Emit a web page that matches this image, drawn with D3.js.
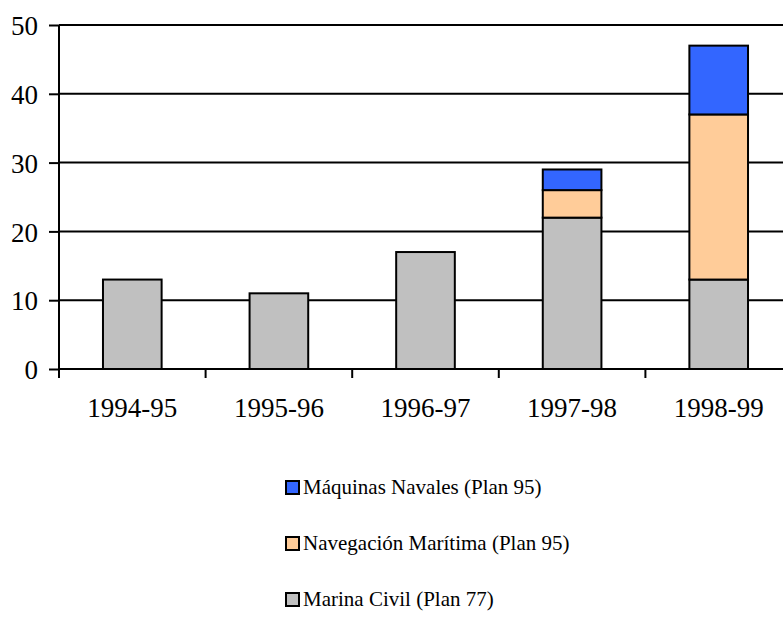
<!doctype html>
<html>
<head>
<meta charset="utf-8">
<style>
  body { margin: 0; background: #fff; }
</style>
</head>
<body>
<svg id="chart" width="783" height="623" font-family="Liberation Serif"></svg>
<script src="https://cdn.jsdelivr.net/npm/d3@7"></script>
<script>
// data
var years = ["1994-95", "1995-96", "1996-97", "1997-98", "1998-99"];
var marinaCivil = [13, 11, 17, 22, 13];
var navegacion = [0, 0, 0, 4, 24];
var maquinas = [0, 0, 0, 3, 10];
var seriesNames = ["Marina Civil (Plan 77)", "Navegación Marítima (Plan 95)", "Máquinas Navales (Plan 95)"];
var seriesColors = ["#C0C0C0", "#FFCC99", "#3366FF"];
var yTicks = [0, 10, 20, 30, 40, 50];

var serif = "Liberation Serif";
var svg = d3.select("#chart");

var x = d3.scaleBand()
  .domain(years)
  .range([59, 792])
  .paddingInner(0.6)
  .paddingOuter(0.3);

var y = d3.scaleLinear()
  .domain([0, 50])
  .range([369, 25]);

// gridlines
svg.append("g")
  .selectAll("line")
  .data(yTicks.slice(1))
  .enter().append("line")
  .attr("x1", 59).attr("x2", 783)
  .attr("y1", function(d) { return y(d); })
  .attr("y2", function(d) { return y(d); })
  .attr("stroke", "#000")
  .attr("stroke-width", 2);

// stacked bars
var table = years.map(function(yr, i) {
  return { year: yr, s0: marinaCivil[i], s1: navegacion[i], s2: maquinas[i] };
});
var layers = d3.stack().keys(["s0", "s1", "s2"])(table);

svg.append("g")
  .selectAll("g")
  .data(layers)
  .enter().append("g")
  .attr("fill", function(d, i) { return seriesColors[i]; })
  .selectAll("rect")
  .data(function(d) { return d.filter(function(p) { return p[1] - p[0] > 0; }); })
  .enter().append("rect")
  .attr("x", function(d) { return x(d.data.year); })
  .attr("width", x.bandwidth())
  .attr("y", function(d) { return y(d[1]); })
  .attr("height", function(d) { return y(d[0]) - y(d[1]); })
  .attr("stroke", "#000")
  .attr("stroke-width", 2);

// y axis
var yAxis = d3.axisLeft(y).tickValues(yTicks).tickSize(10).tickPadding(11);
var gy = svg.append("g")
  .attr("transform", "translate(59,0)")
  .call(yAxis)
  .attr("font-family", serif)
  .attr("font-size", 27);
gy.select(".domain").remove();
gy.append("line")
  .attr("x1", 0).attr("x2", 0)
  .attr("y1", 25).attr("y2", 378)
  .attr("stroke", "#000").attr("stroke-width", 2);
gy.selectAll(".tick line").attr("stroke-width", 2);
gy.selectAll("text")
  .attr("dy", "0.36em")
  .attr("font-family", serif)
  .attr("fill", "#000");

// x axis
var tickPos = years.map(function(d) { return x(d) - x.step() * x.paddingInner() / 2; }).slice(1);
var gx = svg.append("g");
gx.append("line")
  .attr("x1", 59).attr("x2", 783)
  .attr("y1", 369).attr("y2", 369)
  .attr("stroke", "#000").attr("stroke-width", 2);
gx.selectAll(".xt")
  .data(tickPos)
  .enter().append("line")
  .attr("x1", function(d) { return d; })
  .attr("x2", function(d) { return d; })
  .attr("y1", 369).attr("y2", 378)
  .attr("stroke", "#000").attr("stroke-width", 2);
gx.selectAll("text")
  .data(years)
  .enter().append("text")
  .attr("x", function(d) { return x(d) + x.bandwidth() / 2; })
  .attr("y", 417)
  .attr("text-anchor", "middle")
  .attr("font-family", serif)
  .attr("font-size", 27)
  .attr("fill", "#000")
  .text(function(d) { return d; });

// legend (reverse order, top to bottom)
var legendOrder = [2, 1, 0];
var legY = d3.scalePoint().domain(legendOrder).range([494, 606]);
var leg = svg.append("g")
  .selectAll("g")
  .data(legendOrder)
  .enter().append("g")
  .attr("transform", function(d) { return "translate(286," + legY(d) + ")"; });
leg.append("rect")
  .attr("x", 0).attr("y", -13)
  .attr("width", 13).attr("height", 13)
  .attr("fill", function(d) { return seriesColors[d]; })
  .attr("stroke", "#000").attr("stroke-width", 2);
leg.append("text")
  .attr("x", 17)
  .attr("font-family", serif)
  .attr("font-size", 21)
  .attr("fill", "#000")
  .text(function(d) { return seriesNames[d]; });
</script>
</body>
</html>
